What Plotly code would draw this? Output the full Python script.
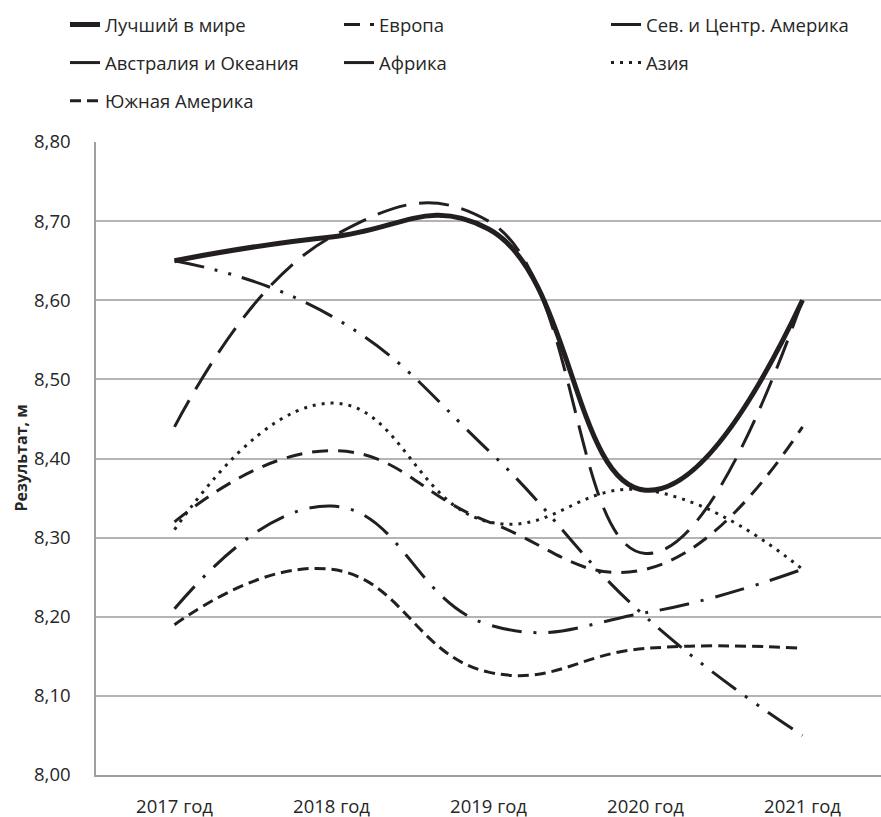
import plotly.graph_objects as go

years = ["2017 год", "2018 год", "2019 год", "2020 год", "2021 год"]

best_world = [8.65, 8.68, 8.69, 8.36, 8.60]
europe = [8.32, 8.41, 8.32, 8.26, 8.44]
north_central_america = [8.44, 8.68, 8.70, 8.28, 8.60]
australia_oceania = [8.21, 8.34, 8.19, 8.205, 8.26]
africa = [8.65, 8.58, 8.41, 8.20, 8.05]
asia = [8.31, 8.47, 8.32, 8.36, 8.26]
south_america = [8.19, 8.26, 8.13, 8.16, 8.16]

INK = "#231f20"
TXT = "#262626"
FONT = "Open Sans"
W, H = 881, 817
FS = 18.5

series = [
    # name, values, width, dash, legend id, group
    ("Лучший в мире", best_world, 5, "solid", "legend", "g1"),
    ("Австралия и Океания", australia_oceania, 3, "30px,12px,3px,12px", "legend", "g2"),
    ("Южная Америка", south_america, 3, "11px,6px", "legend", "g3"),
    ("Европа", europe, 3, "16px,10px", "legend2", "g4"),
    ("Африка", africa, 3, "30px,11px,3px,11px,3px,11px", "legend2", "g5"),
    ("Сев. и Центр. Америка", north_central_america, 3, "30px,13px", "legend3", "g6"),
    ("Азия", asia, 3, "3px,6px", "legend3", "g7"),
]

fig = go.Figure()
for name, vals, w, dash, leg, grp in series:
    fig.add_trace(go.Scatter(
        x=years, y=vals, name=name, mode="lines",
        line=dict(color=INK, width=w, dash=dash, shape="spline", smoothing=1.3),
        legend=leg, legendgroup=grp, hoverinfo="skip",
    ))

def legend_cfg(xpx, ypx):
    return dict(
        x=xpx / W, y=1 - ypx / H, xref="container", yref="container",
        xanchor="left", yanchor="top", orientation="v",
        font=dict(family=FONT, size=FS, color=TXT),
        bgcolor="rgba(0,0,0,0)", itemwidth=30, tracegroupgap=11,
        traceorder="grouped", itemclick=False, itemdoubleclick=False,
    )

fig.update_layout(
    width=W, height=H,
    margin=dict(l=96, r=0, t=142, b=42, autoexpand=False),
    paper_bgcolor="white", plot_bgcolor="white",
    separators=", ",
    font=dict(family=FONT, size=FS, color=TXT),
    legend=legend_cfg(65, 6),
    legend2=legend_cfg(339, 6),
    legend3=legend_cfg(606, 6),
    xaxis=dict(
        type="category", showgrid=False, showline=True, linecolor="#a0a0a0",
        linewidth=1.5, ticks="", ticklabelstandoff=14,
        tickfont=dict(family=FONT, size=FS, color=TXT),
        range=[-0.5, 4.5], fixedrange=True,
    ),
    yaxis=dict(
        range=[8.0, 8.8], dtick=0.1, tick0=8.0, tickformat=".2f",
        showgrid=True, gridcolor="#b4b4b4", gridwidth=1.5,
        showline=True, linecolor="#a0a0a0", linewidth=1.5,
        zeroline=False, ticks="", ticklabelstandoff=20,
        tickfont=dict(family=FONT, size=FS, color=TXT),
        fixedrange=True,
    ),
    annotations=[dict(
        text="<b>Результат, м</b>", textangle=-90,
        xref="paper", yref="paper", x=(20 - 96) / (W - 96), y=0.5,
        xanchor="center", yanchor="middle", showarrow=False,
        font=dict(family=FONT, size=16, color=TXT),
    )],
)

fig.write_html("out.html", config={"displayModeBar": False})

with open("out.html", "r", encoding="utf-8") as f:
    html = f.read()
html = html.replace("<head>", "<head><style>html,body{margin:0;padding:0;}</style>", 1)
with open("out.html", "w", encoding="utf-8") as f:
    f.write(html)
